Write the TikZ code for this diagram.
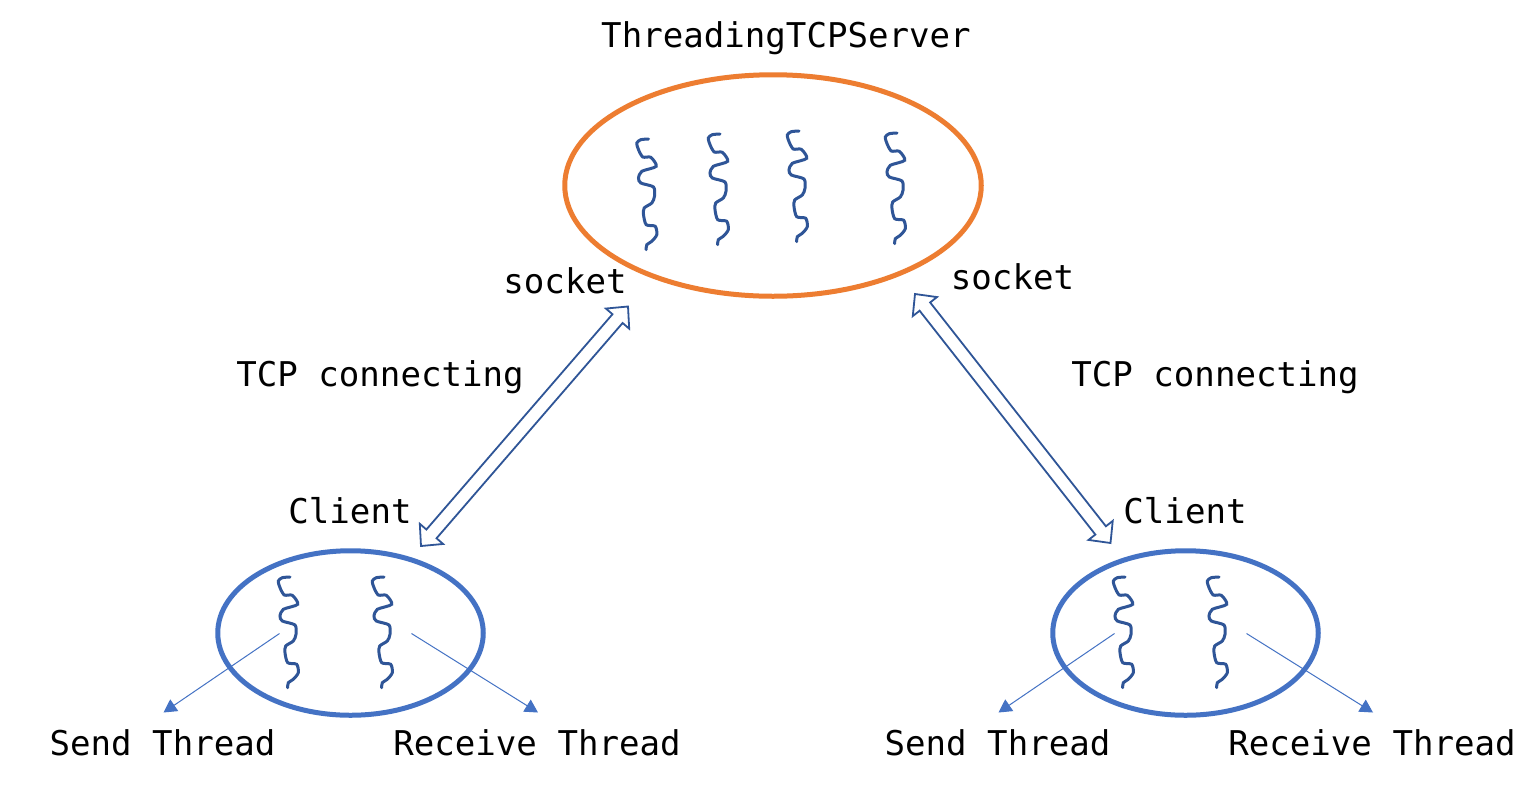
\documentclass[tikz,border=0pt]{standalone}
\usepackage{fontspec}
\setmonofont{DejaVu Sans Mono}
\usetikzlibrary{shapes.geometric,arrows.meta,calc}
\definecolor{orangeline}{HTML}{ED7D31}
\definecolor{blueline}{HTML}{4472C4}
\definecolor{darkblue}{HTML}{2F5597}
\tikzset{
  serverell/.style={draw=orangeline,line width=5pt,shape=ellipse,inner sep=0pt,outer sep=0pt,minimum width=416.5pt,minimum height=221.5pt},
  clientell/.style={draw=blueline,line width=5pt,shape=ellipse,inner sep=0pt,outer sep=0pt,minimum width=265.5pt,minimum height=164.5pt},
  label/.style={font=\ttfamily\fontsize{34.1}{34.1}\selectfont,anchor=base,inner sep=0pt,text=black},
  hollow/.style={draw=darkblue,line width=1.8pt,fill=white,miter limit=10},
  thin arrow/.style={draw=blueline,line width=1pt,-{Triangle[length=13pt,width=14pt]}},
  squiggle/.pic={\draw[darkblue,line width=3pt,line cap=round] plot[smooth,tension=0.45] coordinates{(0,0)(-7.7,.7)(-11.7,4)(-10,10.7)(-5.7,18)(2.3,18.3)(7.7,27.3)(-6.7,32.3)(-10,39)(-7.7,44)(5,48)(6,57.3)(3.3,64)(-4.3,69)(-5,75.7)(-2.3,85.7)(6.7,87.3)(8.3,95.7)(3.3,102.3)(-1.7,105.7)(-2.3,110.7)};}
}
% hollow double-headed block arrow between two named coordinates
\newcommand{\hollowarrow}[2]{%
  \draw[hollow] (#1)
    -- ($(#1)!16pt!(#2)!15.4pt!90:(#2)$)
    -- ($(#1)!16pt!(#2)!6.7pt!90:(#2)$)
    -- ($(#2)!16pt!(#1)!6.7pt!-90:(#1)$)
    -- ($(#2)!16pt!(#1)!15.4pt!-90:(#1)$)
    -- (#2)
    -- ($(#2)!16pt!(#1)!15.4pt!90:(#1)$)
    -- ($(#2)!16pt!(#1)!6.7pt!90:(#1)$)
    -- ($(#1)!16pt!(#2)!6.7pt!-90:(#2)$)
    -- ($(#1)!16pt!(#2)!15.4pt!-90:(#2)$)
    -- cycle;}
\begin{document}
\begin{tikzpicture}[x=1pt,y=-1pt]
\path[use as bounding box,fill=white] (0,0) rectangle (1539,788);

% server
\node[serverell] (server) at (773,185.5) {};
\node[label] (servertitle) at (786,47) {ThreadingTCPServer};
\pic at (648.5,139) {squiggle};
\pic at (720,134) {squiggle};
\pic at (799,131) {squiggle};
\pic at (897,133) {squiggle};

% clients
\node[clientell] (clientL) at (350.5,633) {};
\node[clientell] (clientR) at (1185.5,633) {};
\pic at (290,577) {squiggle};
\pic at (384,577) {squiggle};
\pic at (1125,577) {squiggle};
\pic at (1219,577) {squiggle};

% block arrows
\coordinate (aLb) at (421,546);
\coordinate (aLt) at (628,306.5);
\coordinate (aRt) at (915,294);
\coordinate (aRb) at (1110.5,543);
\hollowarrow{aLb}{aLt}
\hollowarrow{aRt}{aRb}

% thin arrows
\coordinate (s1) at (279.5,633.5);
\coordinate (e1) at (163.5,712.5);
\coordinate (s2) at (411.5,633.5);
\coordinate (e2) at (538,712.5);
\coordinate (s3) at (1114.5,633.5);
\coordinate (e3) at (998.5,712.5);
\coordinate (s4) at (1246.5,633.5);
\coordinate (e4) at (1373,712.5);
\draw[thin arrow] (s1) -- (e1);
\draw[thin arrow] (s2) -- (e2);
\draw[thin arrow] (s3) -- (e3);
\draw[thin arrow] (s4) -- (e4);

% labels
\node[label] (sockL) at (565,293) {socket};
\node[label] (sockR) at (1012.5,289) {socket};
\node[label] (tcpL) at (380,386) {TCP connecting};
\node[label] (tcpR) at (1215,386) {TCP connecting};
\node[label] (cliL) at (350,523) {Client};
\node[label] (cliR) at (1185,523) {Client};
\node[label] (sendL) at (162.5,755) {Send Thread};
\node[label] (recvL) at (537,755) {Receive Thread};
\node[label] (sendR) at (997.5,755) {Send Thread};
\node[label] (recvR) at (1372,755) {Receive Thread};
\end{tikzpicture}
\end{document}
